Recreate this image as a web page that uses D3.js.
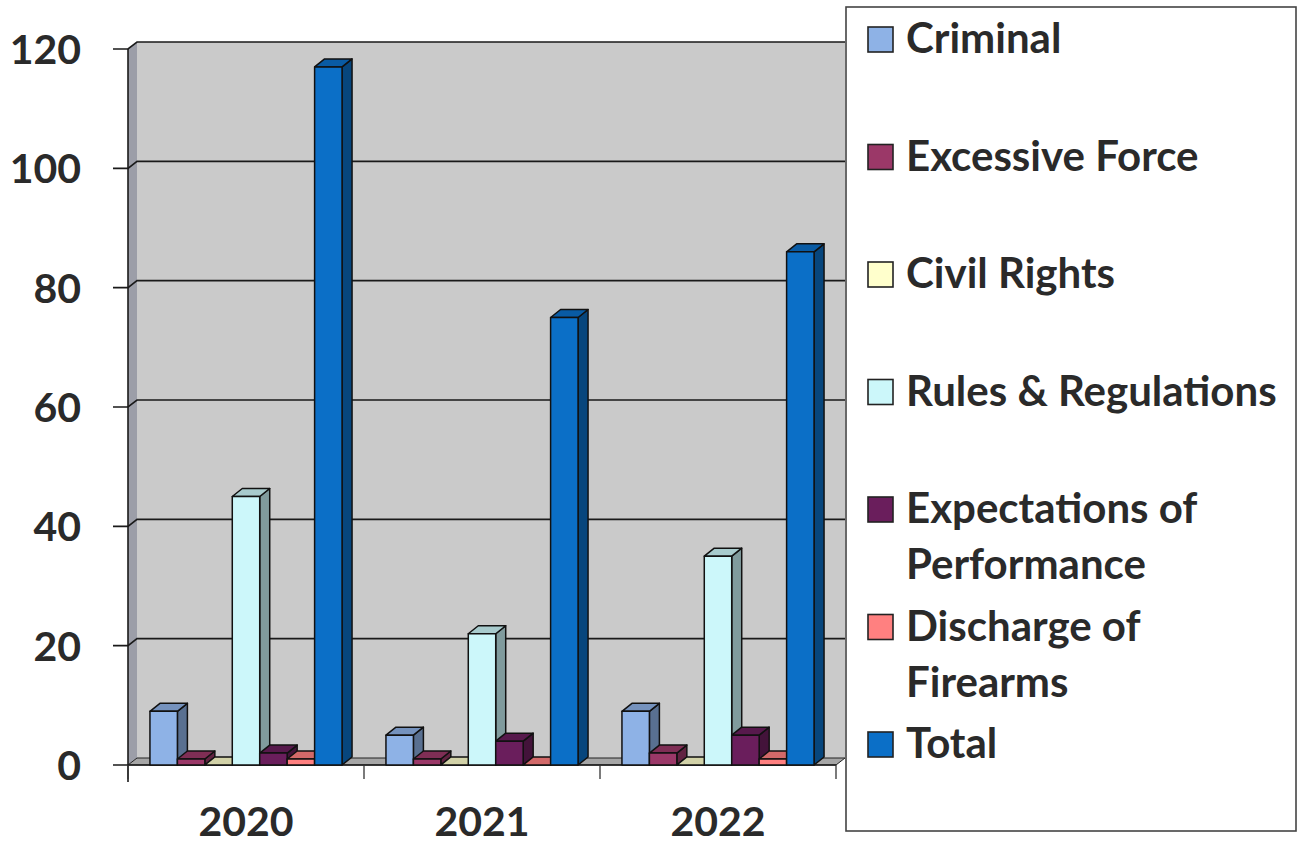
<!DOCTYPE html>
<html><head><meta charset="utf-8">
<script src="https://cdn.jsdelivr.net/npm/d3@7"></script>
<style>body{margin:0;background:#fff}svg{display:block}text{font-family:Lato,"Open Sans",sans-serif;font-weight:bold;fill:#2a2a2a}</style>
</head><body><svg id="c" width="1300" height="846"></svg>
<script>
const years = ["2020", "2021", "2022"];
const seriesNames = ["Criminal", "Excessive Force", "Civil Rights", "Rules & Regulations", "Expectations of Performance", "Discharge of Firearms", "Total"];
const legendLines = [["Criminal"], ["Excessive Force"], ["Civil Rights"], ["Rules & Regulations"], ["Expectations of", "Performance"], ["Discharge of", "Firearms"], ["Total"]];
const criminal = [9, 5, 9];
const excessiveForce = [1, 1, 2];
const civilRights = [0, 0, 0];
const rulesRegulations = [45, 22, 35];
const expectationsPerformance = [2, 4, 5];
const dischargeFirearms = [1, 0, 1];
const total = [117, 75, 86];
const yTicks = [0, 20, 40, 60, 80, 100, 120];
const seriesColors = ["#8EB2E6", "#9B3868", "#FFFFCC", "#CCF7FA", "#6A1E5C", "#FF8080", "#0B6FC7"];

const seriesValues = [criminal, excessiveForce, civilRights, rulesRegulations, expectationsPerformance, dischargeFirearms, total];

const svg = d3.select("#c");
const L = 128, R = 836, T = 49, B = 765;
const wdx = 9, wdy = 7;   // wall depth
const bdx = 10, bdy = 8;  // bar depth

const x = d3.scaleBand().domain(years).range([L, R]).paddingInner(0).paddingOuter(0);
const xi = d3.scaleBand().domain(seriesNames).range([0, x.bandwidth()]).paddingInner(0).paddingOuter(0.8);
const y = d3.scaleLinear().domain([0, 120]).range([B, T]);

// back wall
svg.append("rect").attr("x", L + wdx).attr("y", y(120) - wdy).attr("width", R - L).attr("height", y(0) - y(120))
  .attr("fill", "#CACACA");
// left side wall
svg.append("polygon").attr("points", [[L, y(120)], [L + wdx, y(120) - wdy], [L + wdx, y(0) - wdy], [L, y(0)]].join(" "))
  .attr("fill", "#9C9EA8");
// floor
svg.append("polygon").attr("points", [[L, y(0)], [L + wdx, y(0) - wdy], [R + wdx, y(0) - wdy], [R, y(0)]].join(" "))
  .attr("fill", "#A6A6A6").attr("stroke", "#222").attr("stroke-width", 1);

// gridlines
yTicks.filter(d => d > 0).forEach(t => {
  svg.append("path").attr("d", `M${L - 15},${y(t)}H${L}L${L + wdx},${y(t) - wdy}H${R + wdx}`)
    .attr("fill", "none").attr("stroke", "#1a1a1a").attr("stroke-width", 1.6);
});
// axis lines
svg.append("path").attr("d", `M${L},${y(120)}V${y(0) + 17}`).attr("stroke", "#1a1a1a").attr("stroke-width", 1.6).attr("fill", "none");
svg.append("path").attr("d", `M${L - 15},${y(0)}H${R}`).attr("stroke", "#1a1a1a").attr("stroke-width", 1.6);
years.concat(["end"]).forEach((yr, i) => {
  const xx = i < years.length ? x(yr) : R;
  svg.append("path").attr("d", `M${xx},${y(0)}V${y(0) + 14}`).attr("stroke", "#333").attr("stroke-width", 1.3);
});

// y labels
svg.selectAll("text.yl").data(yTicks).join("text").attr("class", "yl")
  .attr("x", 81).attr("y", d => y(d) + 15).attr("text-anchor", "end").attr("font-size", 41).text(d => d);
// x labels
svg.selectAll("text.xl").data(years).join("text").attr("class", "xl")
  .attr("x", d => x(d) + x.bandwidth() / 2).attr("y", 836).attr("text-anchor", "middle").attr("font-size", 41).text(d => d);

// bars
years.forEach((yr, yi) => {
  seriesNames.forEach((s, si) => {
    const v = seriesValues[si][yi];
    const c = d3.color(seriesColors[si]);
    const x0 = x(yr) + xi(s), w = xi.bandwidth();
    const y0 = y(v), yb = y(0);
    const g = svg.append("g").attr("stroke", "#111").attr("stroke-width", 1.5).attr("stroke-linejoin", "round");
    // side
    g.append("polygon").attr("points", [[x0 + w, y0], [x0 + w + bdx, y0 - bdy], [x0 + w + bdx, yb - bdy], [x0 + w, yb]].join(" "))
      .attr("fill", c.darker(1.3));
    // top
    g.append("polygon").attr("points", [[x0, y0], [x0 + bdx, y0 - bdy], [x0 + w + bdx, y0 - bdy], [x0 + w, y0]].join(" "))
      .attr("fill", c.darker(0.55));
    // front
    if (v > 0) g.append("rect").attr("x", x0).attr("y", y0).attr("width", w).attr("height", yb - y0).attr("fill", c);
  });
});

// legend
svg.append("rect").attr("x", 846).attr("y", 7).attr("width", 450).attr("height", 824)
  .attr("fill", "#fff").attr("stroke", "#444").attr("stroke-width", 1.6);
const lg = svg.append("g");
seriesNames.forEach((s, i) => {
  const base = 53 + i * 117.5;
  lg.append("rect").attr("x", 868).attr("y", base - 26).attr("width", 25).attr("height", 25)
    .attr("fill", seriesColors[i]).attr("stroke", "#222").attr("stroke-width", 1.6);
  legendLines[i].forEach((ln, k) => {
    lg.append("text").attr("x", 906).attr("y", base + k * 56).attr("font-size", 42).text(ln);
  });
});
</script></body></html>
